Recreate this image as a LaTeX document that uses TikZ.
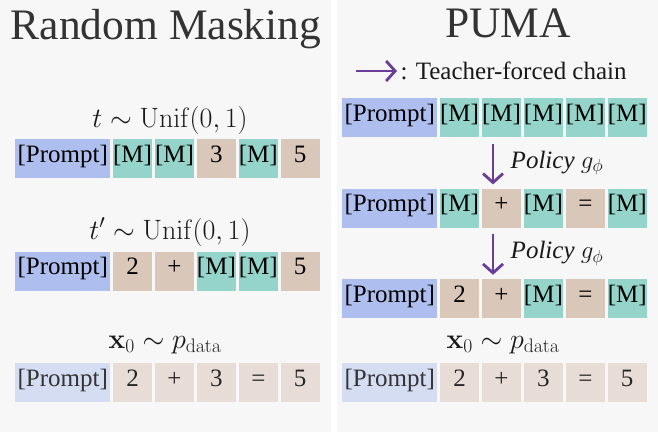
\RequirePackage{fix-cm}
\documentclass[tikz,border=0pt]{standalone}
\usepackage[no-math]{fontspec}
\setmainfont{Liberation Serif}
\usepackage{xcolor}
\definecolor{panelgray}{RGB}{247,247,247}
\definecolor{promptblue}{RGB}{174,190,238}
\definecolor{promptpale}{RGB}{213,221,243}
\definecolor{maskteal}{RGB}{148,212,202}
\definecolor{tokentan}{RGB}{217,199,185}
\definecolor{tokenpale}{RGB}{232,221,214}
\definecolor{chainpurple}{RGB}{106,61,154}
\definecolor{titlegray}{RGB}{51,51,51}
\usepackage{tikz}
\usetikzlibrary{
    arrows.meta,
    positioning
}
\tikzset{
    cellbox/.style    = {rectangle, inner sep=0pt, minimum width=39pt,
                         minimum height=39pt, text height=0.8em, text depth=0.1em,
                         font=\fontsize{25}{30}\selectfont},
    promptbox/.style  = {cellbox, minimum width=95pt},
    titletext/.style  = {font=\fontsize{43.5}{50}\selectfont, text=titlegray},
    mathlabel/.style  = {font=\fontsize{28}{34}\selectfont, text=black!90},
    legendtext/.style = {font=\fontsize{25}{30}\selectfont, text=black!90},
    chain/.style      = {-{Straight Barb[length=9pt,width=20pt]}, line width=2.8pt,
                         draw=chainpurple}
}

\begin{document}
\begin{tikzpicture}[
    x=1pt, y=-1pt,
    node distance = 2.5pt
]
\useasboundingbox (0,0) rectangle (658,432);

% --- Panels ---
\fill[white]     (0,0)   rectangle (658,432);
\fill[panelgray] (0,0)   rectangle (331,432);
\fill[panelgray] (337,0) rectangle (658,432);

% --- Titles ---
\node[titletext, anchor=base] (rmT)   at (166,39) {Random Masking};
\node[titletext, anchor=base] (pumaT) at (508,37) {PUMA};

% --- Legend ---
\coordinate (legS) at (356,71);
\node[legendtext, anchor=west] (legT) at (397,71) {: Teacher-forced chain};
\draw[chain] (legS) -- (legT.west);

% --- Random Masking rows ---
\node[mathlabel, anchor=base] (tA) at (170,127) {$t \sim \mathrm{Unif}(0,1)$};
\node[promptbox, fill=promptblue, anchor=north west] (L1-0) at (15,139) {[Prompt]};
\foreach \c/\t [count=\i, remember=\i as \j (initially 0)] in
   {maskteal/[M], maskteal/[M], tokentan/3, maskteal/[M], tokentan/5}
   \node[cellbox, fill=\c, right=of L1-\j] (L1-\i) {\t};

\node[mathlabel, anchor=base] (tB) at (170,239) {$t' \sim \mathrm{Unif}(0,1)$};
\node[promptbox, fill=promptblue, below=73pt of L1-0] (L2-0) {[Prompt]};
\foreach \c/\t [count=\i, remember=\i as \j (initially 0)] in
   {tokentan/2, tokentan/+, maskteal/[M], maskteal/[M], tokentan/5}
   \node[cellbox, fill=\c, right=of L2-\j] (L2-\i) {\t};

\node[mathlabel, anchor=base] (xA) at (165,348) {$\mathbf{x}_0 \sim p_{\mathrm{data}}$};
\node[promptbox, fill=promptpale, text=black!80, below=72pt of L2-0] (L3-0) {[Prompt]};
\foreach \t [count=\i, remember=\i as \j (initially 0)] in {2, +, 3, =, 5}
   \node[cellbox, fill=tokenpale, text=black!85, right=of L3-\j] (L3-\i) {\t};

% --- PUMA rows ---
\node[promptbox, fill=promptblue, anchor=north west] (R1-0) at (342,98) {[Prompt]};
\foreach \c/\t [count=\i, remember=\i as \j (initially 0)] in
   {maskteal/[M], maskteal/[M], maskteal/[M], maskteal/[M], maskteal/[M]}
   \node[cellbox, fill=\c, right=of R1-\j] (R1-\i) {\t};

\node[promptbox, fill=promptblue, below=51pt of R1-0] (R2-0) {[Prompt]};
\foreach \c/\t [count=\i, remember=\i as \j (initially 0)] in
   {maskteal/[M], tokentan/+, maskteal/[M], tokentan/=, maskteal/[M]}
   \node[cellbox, fill=\c, right=of R2-\j] (R2-\i) {\t};

\node[promptbox, fill=promptblue, below=51pt of R2-0] (R3-0) {[Prompt]};
\foreach \c/\t [count=\i, remember=\i as \j (initially 0)] in
   {tokentan/2, tokentan/+, maskteal/[M], tokentan/=, maskteal/[M]}
   \node[cellbox, fill=\c, right=of R3-\j] (R3-\i) {\t};

\node[mathlabel, anchor=base] (xB) at (503,348) {$\mathbf{x}_0 \sim p_{\mathrm{data}}$};
\node[promptbox, fill=promptpale, text=black!80, below=45pt of R3-0] (R4-0) {[Prompt]};
\foreach \t [count=\i, remember=\i as \j (initially 0)] in {2, +, 3, =, 5}
   \node[cellbox, fill=tokenpale, text=black!85, right=of R4-\j] (R4-\i) {\t};

% --- Policy steps along the chain ---
\foreach \src/\dst in {R1-2/R2-2, R2-2/R3-2}
   \draw[chain, shorten <=6.5pt, shorten >=4pt]
      ([xshift=-8.5pt]\src.south) --
      node[legendtext, right=13pt] {\textit{Policy} $g_\phi$}
      ([xshift=-8.5pt]\dst.north);

\end{tikzpicture}
\end{document}
